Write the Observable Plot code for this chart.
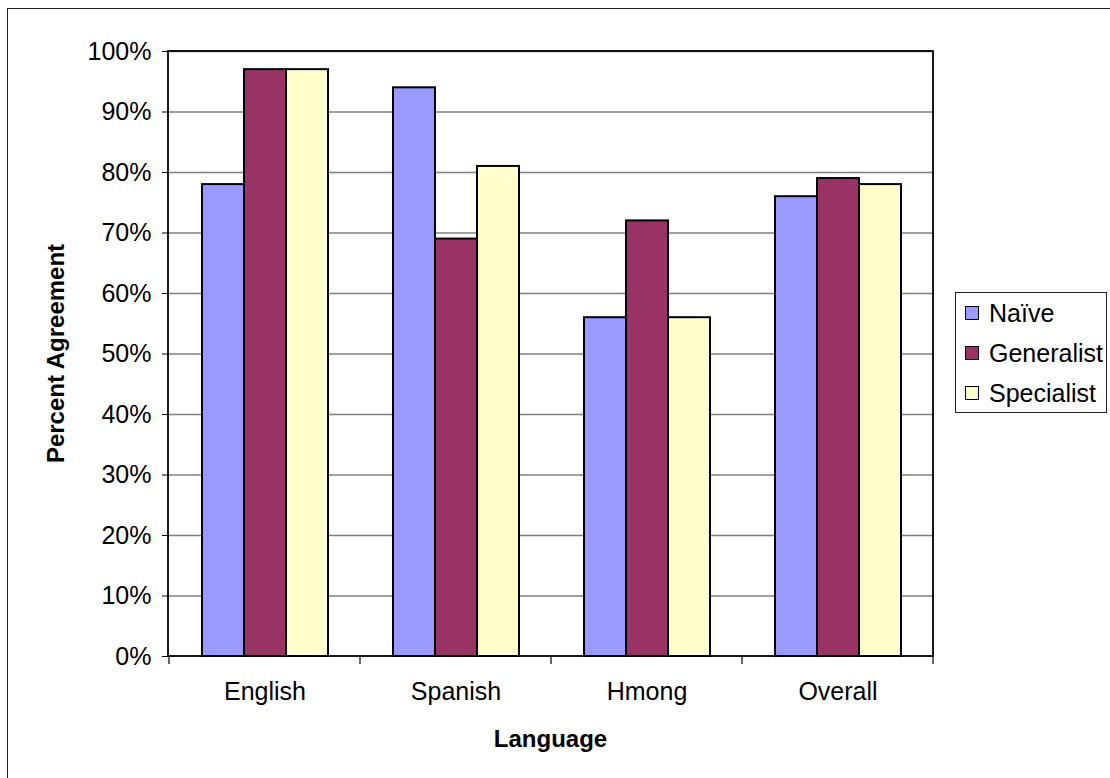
<!DOCTYPE html>
<html>
<head>
<meta charset="utf-8">
<script src="https://cdn.jsdelivr.net/npm/d3@7"></script>
<script src="https://cdn.jsdelivr.net/npm/@observablehq/plot@0.6"></script>
<style>
  html, body { margin: 0; padding: 0; background: #fff; overflow: hidden; }
  #wrap { position: relative; width: 1110px; height: 778px; overflow: hidden;
          font-family: "Liberation Sans", Arial, sans-serif; }
  #outline { position: absolute; left: 7px; top: 8px; width: 1120px; height: 790px;
             border: 1.5px solid #222; box-sizing: border-box; pointer-events: none; }
  #legend { position: absolute; left: 955px; top: 292px; width: 152px; height: 121px;
            border: 1.5px solid #222; box-sizing: border-box; background: #fff;
            font-size: 25px; color: #000; }
  .item { position: absolute; left: 9px; height: 30px; display: flex; align-items: center; }
  .swatch { width: 12px; height: 12px; border: 1.5px solid #000; margin-right: 10px; }
</style>
</head>
<body>
<div id="wrap">
  <div id="chart"></div>
  <div id="legend"></div>
  <div id="outline"></div>
</div>
<script>
// Agreement rates by language and rater type
const languages = ["English", "Spanish", "Hmong", "Overall"];
const groups = ["Naïve", "Generalist", "Specialist"];
const naive = [78, 94, 56, 76];
const generalist = [97, 69, 72, 79];
const specialist = [97, 81, 56, 78];
const colors = ["#9999ff", "#993366", "#ffffcc"];
const yTicks = [0, 10, 20, 30, 40, 50, 60, 70, 80, 90, 100];

const series = [naive, generalist, specialist];
const rows = languages.flatMap((language, i) =>
  groups.map((group, j) => ({language, group, value: series[j][i]}))
);

const plot = Plot.plot({
  width: 1110,
  height: 778,
  marginLeft: 168,
  marginRight: 177,
  marginTop: 51,
  marginBottom: 122,
  style: {fontFamily: "'Liberation Sans', Arial, sans-serif", fontSize: "25px", background: "white", color: "#000"},
  facet: {data: rows, x: "language"},
  fx: {domain: languages, padding: 0, label: null, tickSize: 0, tickPadding: 26},
  x: {domain: groups, paddingInner: 0, paddingOuter: 0.75, axis: null},
  y: {domain: [0, 100], ticks: yTicks, tickFormat: d => d + "%", tickSize: 7, tickPadding: 11, label: null},
  color: {domain: groups, range: colors},
  marks: [
    Plot.ruleY(yTicks.slice(1), {stroke: "#808080", strokeWidth: 1.5}),
    Plot.barY(rows, {x: "group", y: "value", fill: "group", stroke: "#000", strokeWidth: 2})
  ]
});
document.getElementById("chart").appendChild(plot);

// Plot-area frame, category boundary ticks and axis titles
{
  const fx = plot.scale("fx");
  const y = plot.scale("y");
  const svg = d3.select(plot);
  const x0 = fx.range[0], x1 = fx.range[1];
  const yTop = y.apply(100), yBottom = y.apply(0);
  const g = svg.append("g");
  g.append("rect")
    .attr("x", x0).attr("y", yTop)
    .attr("width", x1 - x0).attr("height", yBottom - yTop)
    .attr("fill", "none").attr("stroke", "#000").attr("stroke-width", 1.8);
  const edges = languages.map(l => fx.apply(l))
    .concat([fx.apply(languages[languages.length - 1]) + fx.step]);
  g.selectAll("line.edge").data(edges).join("line")
    .attr("x1", d => d).attr("x2", d => d)
    .attr("y1", yBottom).attr("y2", yBottom + 8)
    .attr("stroke", "#000").attr("stroke-width", 1.2);
  g.append("text")
    .attr("x", (x0 + x1) / 2).attr("y", 747)
    .attr("text-anchor", "middle").attr("font-weight", "bold").attr("font-size", 24)
    .text("Language");
  g.append("text")
    .attr("transform", `translate(63.5,${(yTop + yBottom) / 2}) rotate(-90)`)
    .attr("text-anchor", "middle").attr("font-weight", "bold").attr("font-size", 24)
    .text("Percent Agreement");
}

// Legend
{
  const legend = document.getElementById("legend");
  groups.forEach((name, i) => {
    const item = document.createElement("div");
    item.className = "item";
    item.style.top = (5 + i * 40) + "px";
    const sw = document.createElement("div");
    sw.className = "swatch";
    sw.style.background = colors[i];
    const label = document.createElement("span");
    label.textContent = name;
    item.appendChild(sw);
    item.appendChild(label);
    legend.appendChild(item);
  });
}
</script>
</body>
</html>
